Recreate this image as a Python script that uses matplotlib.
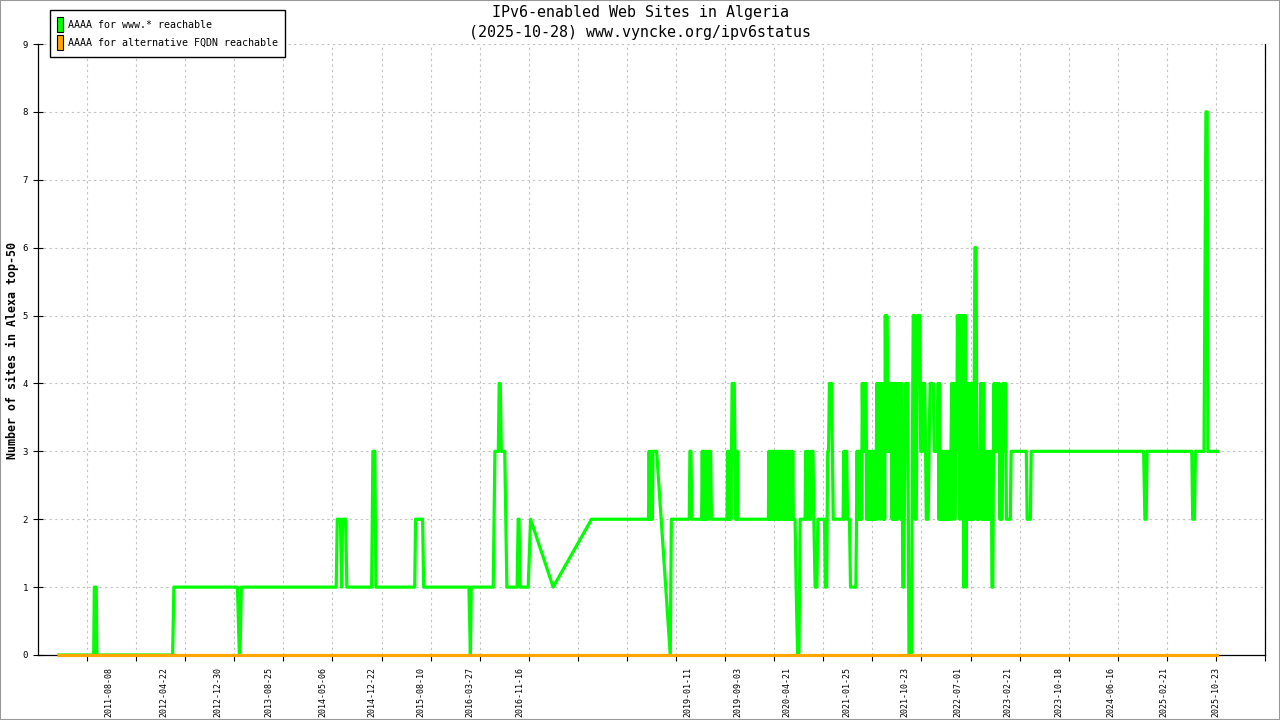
import matplotlib
matplotlib.use("Agg")
import matplotlib.pyplot as plt
import matplotlib.dates as mdates
from matplotlib.patches import Patch, Rectangle

# Chart text
title_lines = ["IPv6-enabled Web Sites in Algeria",
               "(2025-10-28) www.vyncke.org/ipv6status"]
y_label = "Number of sites in Alexa top-50"
series_names = ["AAAA for www.* reachable", "AAAA for alternative FQDN reachable"]

# x-axis date labels
label_dates = ["2011-08-08", "2012-04-22", "2012-12-30", "2013-08-25", "2014-05-06",
               "2014-12-22", "2015-08-10", "2016-03-27", "2016-11-16", "2019-01-11",
               "2019-09-03", "2020-04-21", "2021-01-25", "2021-10-23", "2022-07-01",
               "2023-02-21", "2023-10-18", "2024-06-16", "2025-02-21", "2025-10-23"]
y_ticks = list(range(10))

# AAAA for www.* reachable: (date, count) vertices
www_2010_2018 = [
    ("2010-12-15", 0), ("2011-05-27", 0), ("2011-05-30", 1), ("2011-06-08", 1),
    ("2011-06-11", 0), ("2012-05-31", 0), ("2012-06-06", 1), ("2013-03-31", 1),
    ("2013-04-09", 0), ("2013-04-12", 0), ("2013-04-18", 1), ("2014-07-07", 1),
    ("2014-07-12", 2), ("2014-07-27", 2), ("2014-08-01", 1), ("2014-08-06", 2),
    ("2014-08-20", 2), ("2014-08-26", 1), ("2014-12-20", 1), ("2014-12-26", 3),
    ("2015-01-04", 3), ("2015-01-09", 1), ("2015-07-10", 1), ("2015-07-14", 2),
    ("2015-08-16", 2), ("2015-08-21", 1), ("2016-03-20", 1), ("2016-03-27", 0),
    ("2016-03-31", 1), ("2016-07-12", 1), ("2016-07-20", 3), ("2016-08-05", 3),
    ("2016-08-09", 4), ("2016-08-14", 4), ("2016-08-19", 3), ("2016-09-04", 3),
    ("2016-09-14", 1), ("2016-11-01", 1), ("2016-11-06", 2), ("2016-11-10", 2),
    ("2016-11-15", 1), ("2016-12-23", 1), ("2017-01-03", 2), ("2017-04-19", 1),
    ("2017-10-16", 2), ("2018-07-10", 2),
]
www_2018_2021 = [
    ("2018-07-13", 3), ("2018-07-16", 2), ("2018-07-19", 3), ("2018-07-22", 2),
    ("2018-07-25", 3), ("2018-07-28", 2), ("2018-07-31", 3), ("2018-08-17", 3),
    ("2018-10-20", 0), ("2018-10-25", 2), ("2019-01-17", 2), ("2019-01-20", 3),
    ("2019-01-25", 3), ("2019-01-29", 2), ("2019-03-16", 2),
    ("2019-03-19", 3), ("2019-03-22", 2), ("2019-03-25", 3), ("2019-03-28", 2),
    ("2019-03-31", 3), ("2019-04-03", 2), ("2019-04-06", 3), ("2019-04-09", 2),
    ("2019-04-12", 3), ("2019-04-15", 3), ("2019-04-18", 2), ("2019-04-22", 3),
    ("2019-04-27", 3), ("2019-05-01", 2), ("2019-07-13", 2),
    ("2019-07-16", 3), ("2019-07-19", 2), ("2019-07-22", 3), ("2019-07-25", 2),
    ("2019-07-28", 3), ("2019-07-31", 2), ("2019-08-03", 3), ("2019-08-06", 4),
    ("2019-08-16", 4), ("2019-08-19", 3), ("2019-08-22", 2), ("2019-08-25", 3),
    ("2019-08-28", 2), ("2019-08-31", 3), ("2019-09-03", 2), ("2020-01-23", 2),
    ("2020-01-26", 3), ("2020-01-29", 2), ("2020-02-01", 3), ("2020-02-04", 2),
    ("2020-02-07", 3), ("2020-02-10", 3), ("2020-02-13", 2), ("2020-02-16", 3),
    ("2020-02-19", 2), ("2020-02-22", 3), ("2020-02-25", 2), ("2020-02-28", 3),
    ("2020-03-02", 3), ("2020-03-05", 2), ("2020-03-08", 3), ("2020-03-11", 2),
    ("2020-03-14", 3), ("2020-03-17", 2), ("2020-03-20", 3), ("2020-03-23", 2),
    ("2020-03-26", 3), ("2020-03-29", 3), ("2020-04-01", 2), ("2020-04-04", 3),
    ("2020-04-07", 2), ("2020-04-10", 3), ("2020-04-13", 2), ("2020-04-16", 3),
    ("2020-04-19", 2), ("2020-04-22", 3), ("2020-04-25", 2), ("2020-04-28", 3),
    ("2020-05-01", 2), ("2020-05-04", 3), ("2020-05-07", 2), ("2020-05-10", 3),
    ("2020-05-13", 2), ("2020-05-16", 3), ("2020-05-19", 2), ("2020-05-27", 2),
    ("2020-06-01", 1), ("2020-06-08", 0), ("2020-06-14", 0), ("2020-06-20", 2),
    ("2020-07-13", 2), ("2020-07-16", 3), ("2020-07-20", 2), ("2020-07-23", 3),
    ("2020-07-27", 3), ("2020-08-01", 2), ("2020-08-07", 2), ("2020-08-11", 3),
    ("2020-08-19", 3), ("2020-08-23", 2), ("2020-08-29", 1), ("2020-09-06", 1),
    ("2020-09-11", 2), ("2020-10-12", 2), ("2020-10-16", 1), ("2020-10-22", 1),
    ("2020-10-27", 3), ("2020-10-31", 3), ("2020-11-04", 4), ("2020-11-14", 4),
    ("2020-11-18", 3), ("2020-11-22", 2), ("2021-01-07", 2), ("2021-01-11", 3),
    ("2021-01-15", 2), ("2021-01-18", 3), ("2021-01-24", 3), ("2021-01-28", 2),
    ("2021-02-06", 2), ("2021-02-11", 1), ("2021-03-08", 1),
]
www_2021_2023 = [
    ("2021-03-11", 2), ("2021-03-14", 3), ("2021-03-17", 2), ("2021-03-20", 3),
    ("2021-03-23", 2), ("2021-03-26", 3), ("2021-03-29", 2), ("2021-04-01", 3),
    ("2021-04-04", 2), ("2021-04-07", 4), ("2021-04-11", 3), ("2021-04-14", 4),
    ("2021-04-18", 3), ("2021-04-21", 4), ("2021-04-25", 4), ("2021-04-28", 2),
    ("2021-05-01", 3), ("2021-05-04", 2), ("2021-05-07", 3), ("2021-05-10", 2),
    ("2021-05-13", 3), ("2021-05-16", 2), ("2021-05-19", 3), ("2021-05-22", 2),
    ("2021-05-25", 3), ("2021-05-28", 2), ("2021-05-31", 3), ("2021-06-03", 2),
    ("2021-06-06", 3), ("2021-06-09", 2), ("2021-06-12", 3), ("2021-06-15", 4),
    ("2021-06-18", 2), ("2021-06-21", 4), ("2021-06-24", 3), ("2021-06-27", 4),
    ("2021-06-30", 2), ("2021-07-03", 4), ("2021-07-06", 3), ("2021-07-09", 4),
    ("2021-07-12", 3), ("2021-07-15", 2), ("2021-07-18", 4), ("2021-07-21", 2),
    ("2021-07-24", 5), ("2021-07-28", 3), ("2021-07-31", 5), ("2021-08-04", 4),
    ("2021-08-07", 3), ("2021-08-10", 4), ("2021-08-13", 3), ("2021-08-16", 4),
    ("2021-08-19", 3), ("2021-08-22", 4), ("2021-08-25", 2), ("2021-08-28", 4),
    ("2021-08-31", 2), ("2021-09-03", 4), ("2021-09-06", 2), ("2021-09-09", 4),
    ("2021-09-12", 2), ("2021-09-15", 4), ("2021-09-18", 2), ("2021-09-21", 4),
    ("2021-09-24", 3), ("2021-09-27", 4), ("2021-09-30", 3), ("2021-10-03", 4),
    ("2021-10-06", 2), ("2021-10-09", 4), ("2021-10-14", 1), ("2021-10-18", 1),
    ("2021-10-24", 3), ("2021-10-27", 4), ("2021-11-06", 4), ("2021-11-12", 0),
    ("2021-11-24", 0), ("2021-11-28", 3), ("2021-12-02", 5), ("2021-12-08", 5),
    ("2021-12-12", 2), ("2021-12-16", 2), ("2021-12-22", 5), ("2022-01-02", 5),
    ("2022-01-06", 3), ("2022-01-14", 3), ("2022-01-18", 4), ("2022-01-25", 4),
    ("2022-01-29", 3), ("2022-02-01", 2), ("2022-02-10", 2), ("2022-02-14", 3),
    ("2022-02-19", 4), ("2022-03-06", 4), ("2022-03-10", 3), ("2022-03-25", 3),
    ("2022-03-29", 4), ("2022-04-01", 2), ("2022-04-04", 4), ("2022-04-07", 2),
    ("2022-04-10", 3), ("2022-04-13", 2), ("2022-04-16", 3), ("2022-04-19", 2),
    ("2022-04-22", 3), ("2022-04-25", 2), ("2022-04-28", 3), ("2022-05-01", 2),
    ("2022-05-04", 3), ("2022-05-07", 2), ("2022-05-10", 3), ("2022-05-13", 2),
    ("2022-05-16", 3), ("2022-05-19", 2), ("2022-05-22", 3), ("2022-05-25", 2),
    ("2022-05-28", 3), ("2022-05-31", 4), ("2022-06-03", 2), ("2022-06-06", 4),
    ("2022-06-09", 3), ("2022-06-12", 4), ("2022-06-15", 2), ("2022-06-18", 3),
    ("2022-06-21", 4), ("2022-06-24", 3), ("2022-06-27", 5), ("2022-07-01", 4),
    ("2022-07-04", 5), ("2022-07-08", 2), ("2022-07-11", 5), ("2022-07-14", 3),
    ("2022-07-17", 4), ("2022-07-20", 2), ("2022-07-23", 5), ("2022-07-26", 1),
    ("2022-07-29", 5), ("2022-08-01", 2), ("2022-08-04", 5), ("2022-08-07", 1),
    ("2022-08-10", 4), ("2022-08-13", 2), ("2022-08-16", 4), ("2022-08-19", 2),
    ("2022-08-22", 4), ("2022-08-25", 2), ("2022-08-28", 4), ("2022-08-31", 2),
    ("2022-09-03", 4), ("2022-09-06", 2), ("2022-09-09", 4), ("2022-09-12", 2),
    ("2022-09-14", 4), ("2022-09-17", 6), ("2022-09-23", 6), ("2022-09-26", 2),
    ("2022-09-29", 3), ("2022-10-02", 2), ("2022-10-05", 3), ("2022-10-08", 2),
    ("2022-10-11", 3), ("2022-10-14", 4), ("2022-10-18", 2), ("2022-10-21", 4),
    ("2022-10-25", 2), ("2022-10-28", 4), ("2022-10-31", 2), ("2022-11-03", 3),
    ("2022-11-06", 2), ("2022-11-09", 3), ("2022-11-12", 2), ("2022-11-15", 3),
    ("2022-11-18", 2), ("2022-11-21", 3), ("2022-11-24", 2), ("2022-11-27", 3),
    ("2022-11-30", 2), ("2022-12-03", 3), ("2022-12-06", 1), ("2022-12-10", 1),
    ("2022-12-13", 3), ("2022-12-16", 4), ("2022-12-19", 3), ("2022-12-22", 4),
    ("2022-12-25", 3), ("2022-12-28", 4), ("2022-12-31", 3), ("2023-01-03", 4),
    ("2023-01-06", 3), ("2023-01-09", 4), ("2023-01-12", 2), ("2023-01-16", 3),
    ("2023-01-19", 2), ("2023-01-23", 2), ("2023-01-27", 4), ("2023-01-30", 3),
    ("2023-02-02", 4), ("2023-02-05", 3), ("2023-02-08", 4), ("2023-02-12", 2),
    ("2023-03-02", 2), ("2023-03-06", 3), ("2023-05-16", 3), ("2023-05-20", 2),
    ("2023-06-04", 2),
]
www_2023_2025 = [
    ("2023-06-08", 3), ("2024-11-16", 3), ("2024-11-22", 2), ("2024-11-28", 2),
    ("2024-12-02", 3), ("2025-06-30", 3), ("2025-07-04", 2), ("2025-07-12", 2),
    ("2025-07-17", 3), ("2025-08-26", 3), ("2025-09-04", 8), ("2025-09-10", 8),
    ("2025-09-13", 3), ("2025-10-28", 3),
]
# AAAA for alternative FQDN reachable
alt_dates = ["2010-12-15", "2025-10-28"]
alt_counts = [0, 0]

www_points = www_2010_2018 + www_2018_2021 + www_2021_2023 + www_2023_2025
www_x = mdates.datestr2num([d for d, _ in www_points])
www_y = [v for _, v in www_points]
alt_x = mdates.datestr2num(alt_dates)

www_color = "#00ff00"
alt_color = "#ffa500"
mono = "DejaVu Sans Mono"
W, H = 1280, 720

fig = plt.figure(figsize=(W / 100, H / 100), dpi=100)
fig.patch.set_facecolor("white")
ax = fig.add_axes([38 / W, 1 - 655 / H, (1265 - 38) / W, (655 - 44) / H])

ax.plot(www_x, www_y, color=www_color, lw=2.3, zorder=3, clip_on=False)
ax.plot(alt_x, alt_counts, color=alt_color, lw=2.3, zorder=4, clip_on=False)

x_min = mdates.datestr2num("2010-09-08")
x_max = mdates.datestr2num("2026-06-08")
ax.set_xlim(x_min, x_max)
ax.set_ylim(0, 9)

# uniform grid/tick positions
step = (x_max - x_min) / 25
grid_x = [x_min + k * step for k in range(1, 26)]
grid_x[-1] = x_max - 1e-6
ax.set_xticks(grid_x)
ax.set_xticklabels([])
ax.set_xticks(mdates.datestr2num(label_dates), minor=True)
ax.set_xticklabels(label_dates, minor=True, rotation=90, family=mono, size=6)
ax.xaxis.remove_overlapping_locs = False
ax.tick_params(axis="x", which="major", direction="out", length=4.3, width=0.8)
ax.tick_params(axis="x", which="minor", length=0, pad=8.5)

ax.set_yticks(y_ticks)
ax.set_yticklabels([str(t) for t in y_ticks], family=mono, size=6.5)
ax.tick_params(axis="y", direction="inout", length=7.2, width=0.8, pad=3.5)

ax.grid(True, which="major", color="#c0c0c0", linestyle=(0, (2, 3)), linewidth=0.8)
ax.set_axisbelow(True)

ax.spines["top"].set_visible(False)
for s in ("left", "bottom", "right"):
    ax.spines[s].set_linewidth(0.9)
    ax.spines[s].set_color("black")

# titles and axis label
fig.text(0.5, 1 - 13 / H, title_lines[0], ha="center", va="center", family=mono, size=10.8)
fig.text(0.5, 1 - 32 / H, title_lines[1], ha="center", va="center", family=mono, size=10.8)
fig.text(12.5 / W, 1 - 350 / H, y_label, rotation=90, ha="center", va="center",
         family=mono, size=8.4, weight="bold")

handles = [Patch(facecolor=www_color, edgecolor="black", linewidth=0.8),
           Patch(facecolor=alt_color, edgecolor="black", linewidth=0.8)]
leg = fig.legend(handles, series_names, loc="upper left",
                 bbox_to_anchor=(50 / W, 1 - 10 / H),
                 prop={"family": mono, "size": 7.2},
                 handlelength=0.6, handleheight=1.95, handletextpad=0.45,
                 labelspacing=0.3, borderpad=0.7, borderaxespad=0,
                 fancybox=False, framealpha=1, edgecolor="black")
leg.get_frame().set_linewidth(1.0)

fig.patches.append(Rectangle((0, 0), 1, 1, transform=fig.transFigure, fill=False,
                             edgecolor="#999999", linewidth=1.5))

fig.savefig("out.png", dpi=100)
